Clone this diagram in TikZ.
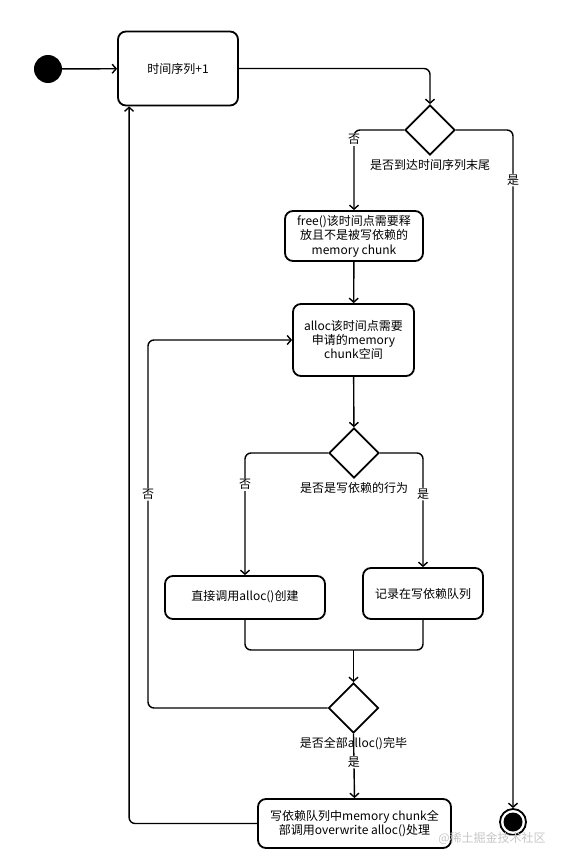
\documentclass[tikz,border=0pt]{standalone}
\usepackage{fontspec}
\setmainfont{Noto Sans CJK SC}
\usetikzlibrary{shapes.geometric,arrows.meta}

\begin{document}
\begin{tikzpicture}[x=1pt,y=-1pt,>={Straight Barb[length=4pt,width=9pt]},
    font=\fontsize{12}{14.4}\selectfont,
    act node/.style={draw,rounded corners=8pt,line width=1.8pt,align=center,inner sep=0pt},
    dec node/.style={draw,diamond,line width=1.8pt,minimum width=50pt,minimum height=50pt,inner sep=0pt},
    flow/.style={line width=1.4pt,rounded corners=6pt},
    lbl/.style={fill=white,inner sep=1pt}]
    \useasboundingbox (0,0) rectangle (563,862);

    \node[circle,fill=black,minimum size=28pt,inner sep=0pt] (start) at (48,69) {};
    \node[act node,minimum width=120pt,minimum height=74pt] (inc) at (178,68.5) {时间序列+1};
    \node[dec node,label={below:是否到达时间序列末尾}] (d1) at (430,130) {};
    \node[act node,minimum width=138pt,minimum height=50pt] (free) at (354,236) {free()该时间点需要释\\放且不是被写依赖的\\memory chunk};
    \node[act node,minimum width=121pt,minimum height=72pt] (alloc) at (353.5,340) {alloc该时间点需要\\申请的memory\\chunk空间};
    \node[dec node,label={below:是否是写依赖的行为}] (d2) at (354,453) {};
    \node[act node,minimum width=160pt,minimum height=43pt] (direct) at (245,597.5) {\raisebox{4pt}{直接调用alloc()创建}};
    \node[act node,minimum width=120pt,minimum height=51pt] (record) at (423,593.5) {记录在写依赖队列};
    \node[dec node,label={below:是否全部alloc()完毕}] (d3) at (353.5,708) {};
    \node[act node,minimum width=193pt,minimum height=49pt] (final) at (354.5,823.5) {写依赖队列中memory chunk全\\部调用overwrite alloc()处理};
    \node[circle,draw,line width=1.8pt,minimum size=26pt,inner sep=0pt] (endc) at (513,822) {};
    \node[circle,fill=black,minimum size=19pt,inner sep=0pt] at (endc) {};
    \node[text=gray!45] (mark) at (492,838) {@稀土掘金技术社区};

    \coordinate (join) at (353.5,650);
    \coordinate (loopL) at (148,708);
    \coordinate (back) at ([xshift=12pt]inc.south west);

    % main flow
    \draw[flow,->] (start) -- (inc);
    \draw[flow,->] (inc.east) -| (d1.north);
    \draw[flow,->] (d1.west) -| node[lbl,pos=0.56] {否} (free.north);
    \draw[flow,->] (d1.east) -| node[lbl,pos=0.537] {是} (endc.north);
    \draw[flow,->] (free) -- (alloc);
    \draw[flow,->] (alloc) -- (d2);
    \draw[flow,->] (d2.west) -| node[lbl,pos=0.63] {否} (direct.north);
    \draw[flow,->] (d2.east) -| node[lbl,pos=0.68] {是} (record.north);
    \draw[flow] (direct.south) |- (join);
    \draw[flow] (record.south) |- (join);
    \draw[flow,->] (join) -- (d3.north);
    \draw[flow,->] (d3.west) -- (loopL) |- node[lbl,pos=0.29] {否} (alloc.west);
    \draw[flow,->] (d3.south) -- node[lbl,pos=0.44] {是} (final.north);
    \draw[flow,->] (final.west) -| (back);
\end{tikzpicture}
\end{document}
